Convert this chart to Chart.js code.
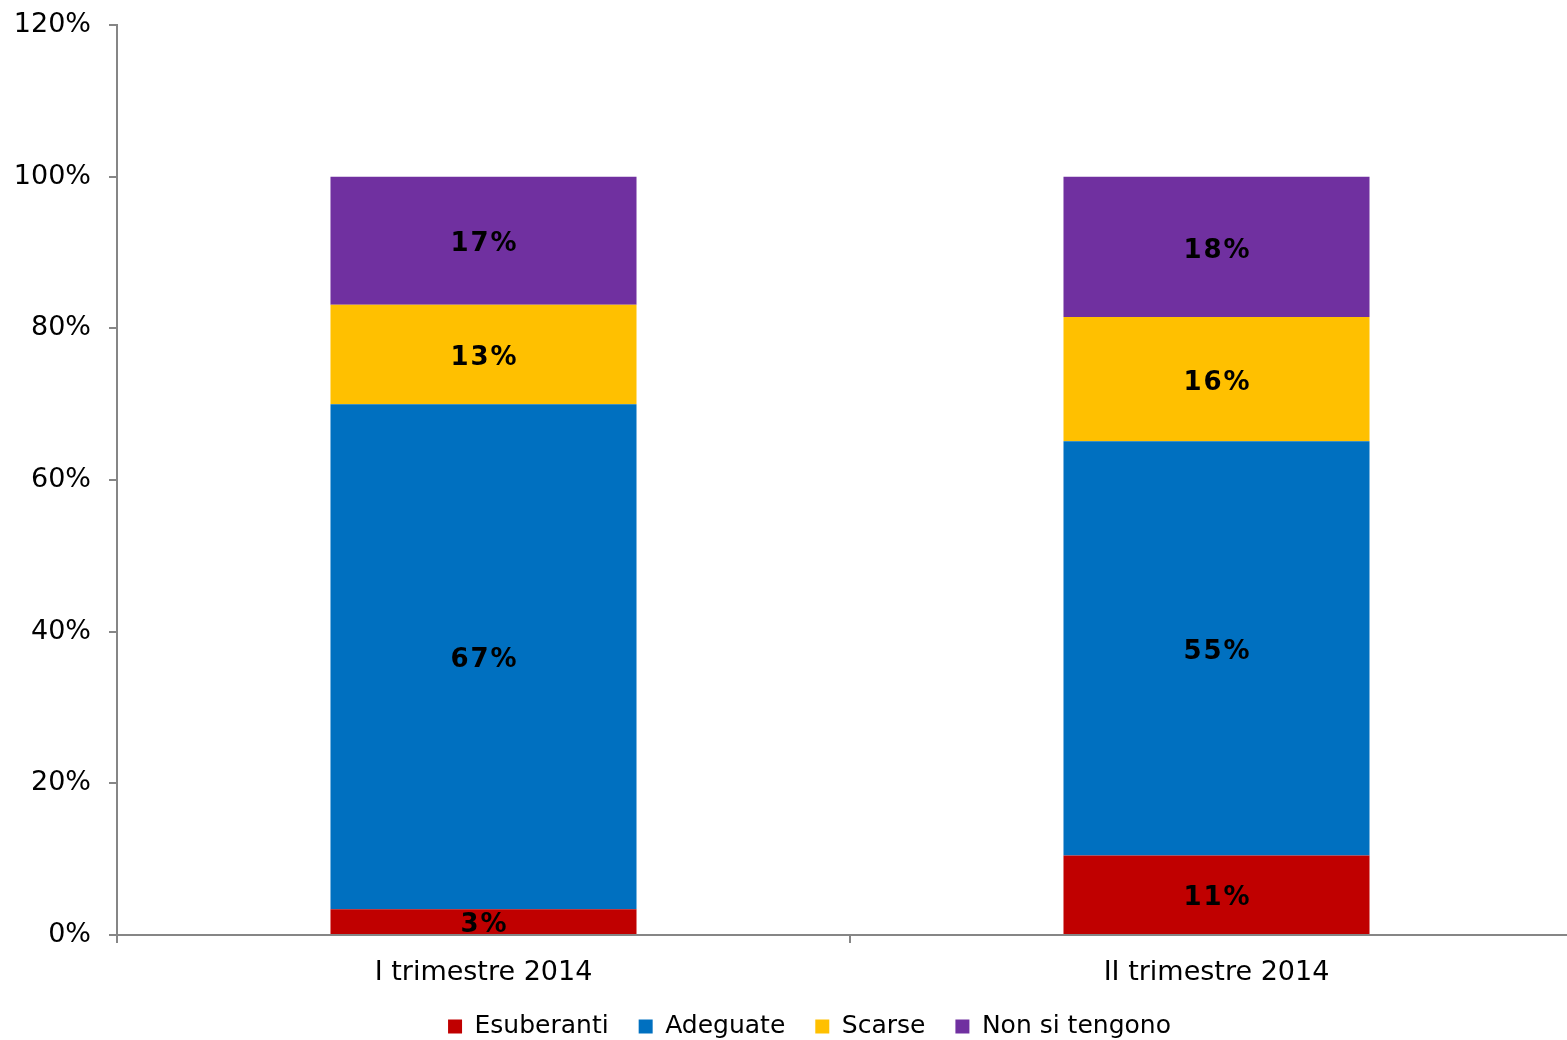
<!DOCTYPE html>
<html>
<head>
<meta charset="utf-8">
<script src="https://cdn.jsdelivr.net/npm/chart.js@4/dist/chart.umd.min.js"></script>
<style>
  html, body { margin: 0; padding: 0; background: #fff; overflow: hidden; }
  /* plot runs a little past the right edge, as in the original */
  #wrap { width: 1583px; height: 1040px; }
</style>
</head>
<body>
<div id="wrap"><canvas id="chart"></canvas></div>
<script>
// Stacked percentage bars, two quarters of 2014
const categories = ['I trimestre 2014', 'II trimestre 2014'];
const seriesNames = ['Esuberanti', 'Adeguate', 'Scarse', 'Non si tengono'];
const esuberanti = [3.4, 10.5];
const adeguate   = [66.6, 54.6];
const scarse     = [13.1, 16.4];
const nonTengono = [16.9, 18.5];
const labelsEsuberanti = ['3%', '11%'];
const labelsAdeguate   = ['67%', '55%'];
const labelsScarse     = ['13%', '16%'];
const labelsNonTengono = ['17%', '18%'];

const COLORS = ['#C00000', '#0070C0', '#FFC000', '#7030A0'];
const AXIS = '#868686';
const FONT = "Verdana, 'DejaVu Sans', sans-serif";

const seriesData = [esuberanti, adeguate, scarse, nonTengono];
const seriesLabels = [labelsEsuberanti, labelsAdeguate, labelsScarse, labelsNonTengono];

// draws the bold value labels centred in each segment
const segmentLabels = {
  id: 'segmentLabels',
  afterDatasetsDraw(chart) {
    const { ctx } = chart;
    ctx.save();
    ctx.font = "bold 26px " + FONT;
    ctx.letterSpacing = '2px';
    ctx.fillStyle = '#000';
    ctx.textAlign = 'center';
    ctx.textBaseline = 'middle';
    chart.data.datasets.forEach((ds, i) => {
      chart.getDatasetMeta(i).data.forEach((bar, j) => {
        const y = (bar.y + bar.base) / 2 + 4;
        ctx.fillText(seriesLabels[i][j], bar.x + 1, y);
      });
    });
    ctx.restore();
  }
};

// legend in the original sits a bit right of the canvas centre
const legendShift = {
  id: 'legendShift',
  afterLayout(chart) {
    chart.legend.left += 18;
    chart.legend.right += 18;
  }
};

new Chart(document.getElementById('chart'), {
  type: 'bar',
  data: {
    labels: categories,
    datasets: seriesNames.map((name, i) => ({
      label: name,
      data: seriesData[i],
      backgroundColor: COLORS[i],
      borderWidth: 0,
      barPercentage: 0.4175,
      categoryPercentage: 1,
    })),
  },
  options: {
    responsive: true,
    maintainAspectRatio: false,
    animation: false,
    layout: { padding: { top: 25, right: 0, left: 0, bottom: -9 } },
    plugins: {
      legend: {
        position: 'bottom',
        labels: {
          color: '#000',
          font: { family: FONT, size: 25 },
          boxWidth: 14,
          boxHeight: 14,
          padding: 30,
        },
      },
      tooltip: { enabled: false },
    },
    scales: {
      x: {
        stacked: true,
        border: { color: AXIS, width: 2 },
        grid: { display: true, drawOnChartArea: false, color: AXIS, tickLength: 8, lineWidth: 2 },
        ticks: { color: '#000', font: { family: FONT, size: 27 }, padding: 14 },
        afterFit(scale) { scale.height = 49; },
      },
      y: {
        stacked: true,
        min: 0,
        max: 120,
        border: { color: AXIS, width: 2 },
        grid: { display: true, drawOnChartArea: false, color: AXIS, tickLength: 8, lineWidth: 2 },
        ticks: {
          stepSize: 20,
          color: '#000',
          font: { family: FONT, size: 27 },
          padding: 18,
          callback: v => v + '%',
        },
        afterFit(scale) { scale.width = 117; scale.paddingTop = 0; },
      },
    },
  },
  plugins: [segmentLabels, legendShift],
});
</script>
</body>
</html>
